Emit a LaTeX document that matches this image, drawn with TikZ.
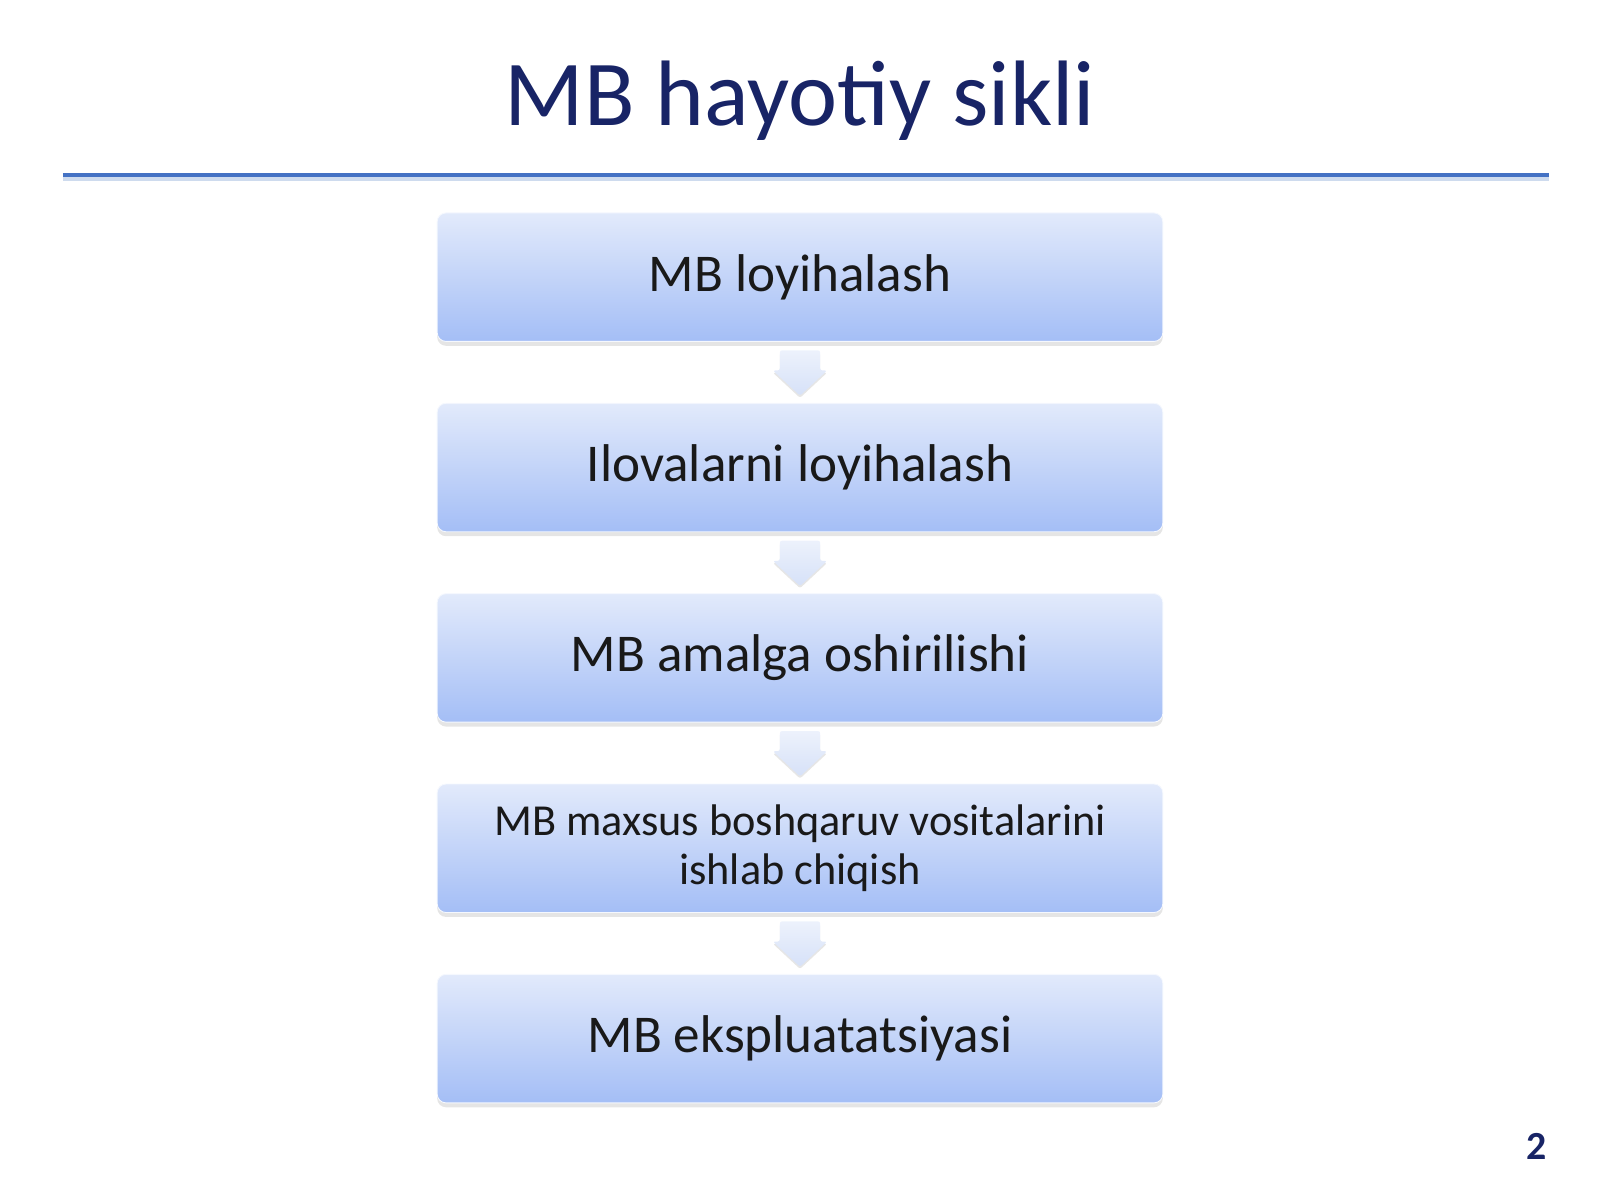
\documentclass[tikz,border=0pt]{standalone}
\usepackage{fontspec}
\setmainfont{Carlito}
\usetikzlibrary{shadows,calc}

\definecolor{titleblue}{RGB}{24,36,102}
\definecolor{rulecol}{RGB}{68,114,196}
\definecolor{ruleshade}{RGB}{206,219,238}
\definecolor{boxtop}{RGB}{226,234,251}
\definecolor{boxmid}{RGB}{203,218,250}
\definecolor{boxbot}{RGB}{164,190,246}
\definecolor{arrowfill}{RGB}{214,225,248}

\tikzset{
  stagebox/.style={rounded corners=4pt, minimum width=11.52cm, minimum height=2.04cm,
    top color=boxtop, middle color=boxmid, bottom color=boxbot,
    draw=white!80!boxmid, line width=0.4pt,
    drop shadow={shadow xshift=0pt, shadow yshift=-2pt, fill=black!40, opacity=0.25},
    text=black!90, align=center},
  flowarrow/.style={rounded corners=1pt, top color=arrowfill!45!white, bottom color=arrowfill,
    drop shadow={shadow xshift=0pt, shadow yshift=-1pt, fill=black!50, opacity=0.2}}
}

\begin{document}
\begin{tikzpicture}
  \useasboundingbox (0,0) rectangle (25.4,-19.05);
  \node[font=\fontsize{42}{50}\selectfont, text=titleblue, anchor=base] (title) at (12.7,-2.0) {MB hayotiy sikli};
  % rule under the title
  \draw[ruleshade, line width=2pt] (1.0,-2.84) -- (24.59,-2.84);
  \draw[rulecol, line width=1.8pt] (1.0,-2.778) -- (24.59,-2.778);
  \foreach [count=\i] \fs/\bs/\stage in {24/29/MB loyihalash, 24/29/Ilovalarni loyihalash,
      24/29/MB amalga oshirilishi, 20/22/{MB maxsus boshqaruv vositalarini\\ishlab chiqish},
      24/29/MB ekspluatatsiyasi} {
    \node[stagebox, font=\fontsize{\fs}{\bs}\selectfont] (s\i) at (12.7,{-4.40-3.022*(\i-1)}) {\stage};
  }
  \foreach \i/\j in {1/2, 2/3, 3/4, 4/5} {
    \begin{scope}[shift={($(s\i.south)!0.5!(s\j.north)+(0,-0.01)$)}]
      \path[flowarrow] (-0.32,0.36) -- (0.32,0.36) -- (0.32,0.04) -- (0.43,0.04)
        -- (0,-0.36) -- (-0.43,0.04) -- (-0.32,0.04) -- cycle;
    \end{scope}
  }
  \node[font=\bfseries\fontsize{18}{22}\selectfont, text=titleblue, anchor=base] (pagenum) at (24.40,-18.41) {2};
\end{tikzpicture}
\end{document}
